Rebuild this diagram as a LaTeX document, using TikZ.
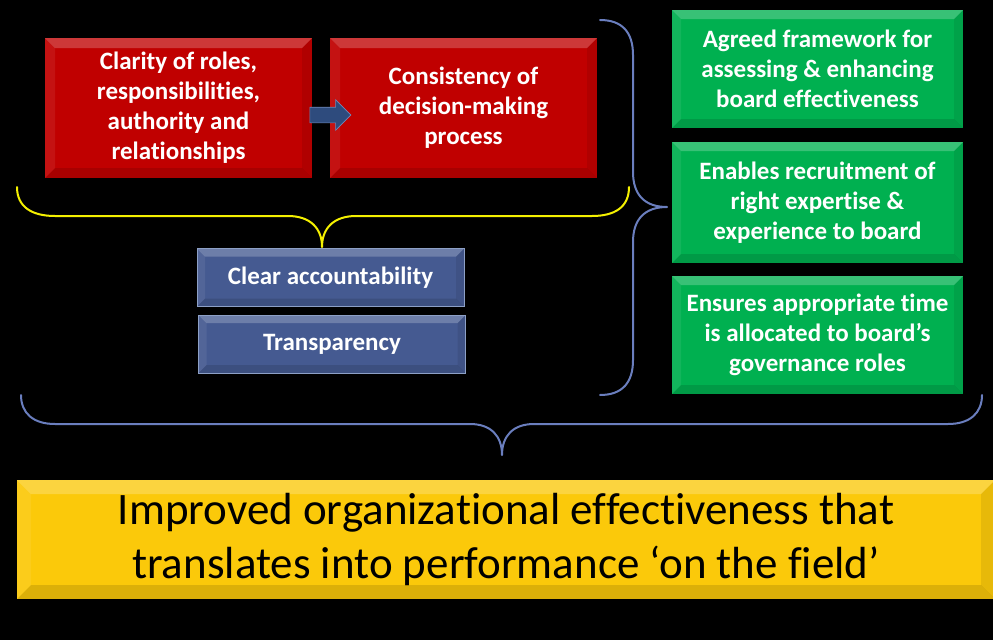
\documentclass[tikz,border=0pt]{standalone}
\usepackage{fontspec}
\setmainfont{Carlito}[Ligatures=NoCommon]
\usetikzlibrary{shapes.arrows}
\definecolor{boxred}{HTML}{C00000}
\definecolor{boxgreen}{HTML}{00B050}
\definecolor{boxblue}{HTML}{455A91}
\definecolor{boxyellow}{HTML}{FBC90A}
\definecolor{braceblue}{HTML}{6A7EBE}
\definecolor{braceyellow}{HTML}{F4F000}
\definecolor{arrowfill}{HTML}{2E4B7D}
\definecolor{arrowedge}{HTML}{7088B8}
\tikzset{
  bevel/.style={path picture={
    \path (path picture bounding box.north west) coordinate (bvA)
          (path picture bounding box.north east) coordinate (bvB)
          (path picture bounding box.south east) coordinate (bvC)
          (path picture bounding box.south west) coordinate (bvD);
    \fill[white,opacity=.22] (bvA) -- (bvB) -- ([shift={(-#1,-#1)}]bvB) -- ([shift={(#1,-#1)}]bvA) -- cycle;
    \fill[white,opacity=.07] (bvA) -- ([shift={(#1,-#1)}]bvA) -- ([shift={(#1,#1)}]bvD) -- (bvD) -- cycle;
    \fill[black,opacity=.08] (bvB) -- ([shift={(-#1,-#1)}]bvB) -- ([shift={(-#1,#1)}]bvC) -- (bvC) -- cycle;
    \fill[black,opacity=.12] (bvD) -- ([shift={(#1,#1)}]bvD) -- ([shift={(-#1,#1)}]bvC) -- (bvC) -- cycle;
  }},
  bevel/.default=9pt,
  card/.style={rectangle, inner sep=0pt, align=center, text=white,
    font=\bfseries\fontsize{25}{30}\selectfont},
  redcard/.style={card, fill=boxred, minimum width=267pt, minimum height=140pt, bevel=10pt},
  bluecard/.style={card, fill=boxblue, draw=arrowedge!80, line width=0.6pt,
    minimum width=267pt, minimum height=58pt, bevel=8pt},
  greencard/.style={card, fill=boxgreen, minimum width=291pt, bevel=9pt},
  goalcard/.style={rectangle, inner sep=0pt, align=center, text=black, fill=boxyellow,
    minimum width=978pt, minimum height=119pt, bevel=14pt,
    font=\fontsize{45}{54}\selectfont},
  brace/.style={line width=2pt, line cap=round, line join=round},
}
\begin{document}
\begin{tikzpicture}[x=1pt,y=-1pt]
  % canvas
  \fill[black] (0,0) rectangle (993,640);
  \useasboundingbox (0,0) rectangle (993,640);

  % red process boxes
  \node[redcard] (clarity) at (178.5,108) {Clarity of roles,\\responsibilities,\\authority and\\relationships};
  \node[redcard] (consist) at (463.5,108) {Consistency of\\decision-making\\process};

  % block arrow from the first red box to the second
  \node[single arrow, fill=arrowfill, draw=arrowedge, line width=0.6pt,
        minimum height=41pt, minimum width=30pt, inner sep=0pt, inner ysep=7.5pt,
        single arrow head extend=7.5pt] (flow) at (326.5,115) {};

  % blue outcome boxes
  \node[bluecard] (account) at (330.5,277.5) {Clear accountability};
  \node[bluecard] (transp) at (332,344) {Transparency};

  % green boxes
  \node[greencard, minimum height=118pt] (frame) at (817.5,69) {Agreed framework for\\assessing \& enhancing\\board effectiveness};
  \node[greencard, minimum height=121pt] (recruit) at (817.5,202.5) {Enables recruitment of\\right expertise \&\\experience to board};
  \node[greencard, minimum height=118pt] (timealloc) at (817.5,335) {Ensures appropriate time\\is allocated to board’s\\governance roles};

  % yellow goal box
  \node[goalcard] (goal) at (506,539.5) {Improved organizational effectiveness that\\translates into performance ‘on the field’};

  % yellow brace under the red boxes
  \draw[brace, braceyellow] (17,187) .. controls (17,207) and (32,216) .. (55,216)
      -- (288,216) .. controls (310,216) and (322,228) .. (322,247)
      .. controls (322,228) and (334,216) .. (356,216)
      -- (592,216) .. controls (615,216) and (629,207) .. (629,187);

  % blue brace to the left of the green boxes
  \draw[brace, braceblue] (600,20) .. controls (622,20) and (633,32) .. (633,55)
      -- (633,172) .. controls (633,195) and (645,207) .. (667,207)
      .. controls (645,207) and (633,219) .. (633,242)
      -- (633,360) .. controls (633,383) and (622,395) .. (600,395);

  % wide brace above the goal box
  \draw[brace, braceblue] (21,395) .. controls (21,413) and (33,424) .. (55,424)
      -- (470,424) .. controls (491,424) and (502,436) .. (502,455)
      .. controls (502,436) and (513,424) .. (534,424)
      -- (948,424) .. controls (970,424) and (982,413) .. (982,395);
\end{tikzpicture}
\end{document}
